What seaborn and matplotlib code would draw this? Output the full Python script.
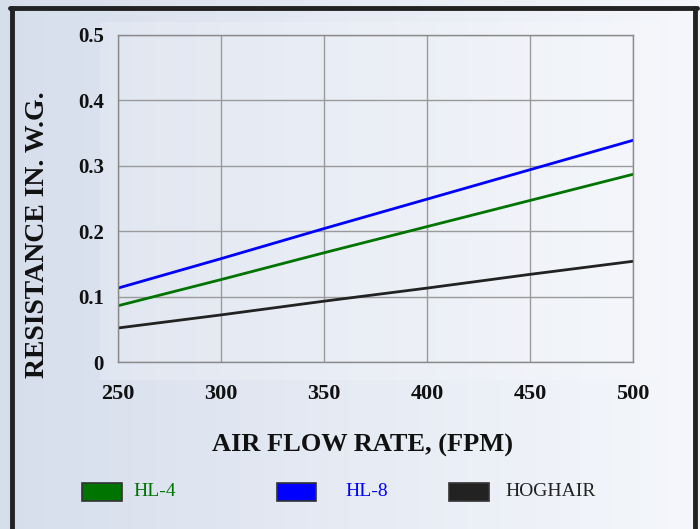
import matplotlib
matplotlib.use("Agg")
import matplotlib.pyplot as plt
from matplotlib.patches import Rectangle
from matplotlib.lines import Line2D
import seaborn as sns
import pandas as pd
import numpy as np

# values
flow_rate = [250, 300, 350, 400, 450, 500]
hl4 = [0.086, 0.126, 0.167, 0.207, 0.247, 0.287]
hl8 = [0.113, 0.158, 0.204, 0.249, 0.294, 0.339]
hoghair = [0.052, 0.072, 0.093, 0.113, 0.134, 0.154]
series_names = ["HL-4", "HL-8", "HOGHAIR"]
series_colors = ["#007400", "#0000ff", "#222222"]
y_ticks = [0, 0.1, 0.2, 0.3, 0.4, 0.5]
y_tick_labels = ["0", "0.1", "0.2", "0.3", "0.4", "0.5"]

df = pd.DataFrame({
    "flow": flow_rate * 3,
    "resistance": hl4 + hl8 + hoghair,
    "series": [s for s in series_names for _ in flow_rate],
})

sns.set_theme(style="white")
plt.rcParams["font.family"] = ["Liberation Serif", "DejaVu Serif"]

fig = plt.figure(figsize=(7, 5.29), dpi=100)

# gradient background
bg = fig.add_axes([0, 0, 1, 1], zorder=-10)
grad = np.linspace(0, 1, 256).reshape(1, -1)
cmap = matplotlib.colors.LinearSegmentedColormap.from_list("bg", ["#d6deec", "#e6ebf4", "#f5f7fb"])
bg.imshow(grad, aspect="auto", cmap=cmap, extent=[0, 1, 0, 1])
bg.add_patch(Rectangle((100 / 700, 1 - 380 / 529), 560 / 700, 358 / 529,
                       facecolor="white", alpha=0.18, edgecolor="none"))
bg.set_xlim(0, 1)
bg.set_ylim(0, 1)
bg.axis("off")

# dark frame
fig.add_artist(Line2D([10 / 700, 697 / 700], [1 - 8 / 529, 1 - 8 / 529], color="#222222", lw=3.5))
fig.add_artist(Line2D([12 / 700, 12 / 700], [0, 1 - 8 / 529], color="#222222", lw=3.5))
fig.add_artist(Line2D([695 / 700, 695 / 700], [0, 1 - 8 / 529], color="#222222", lw=3.5))

ax = fig.add_axes([118 / 700, 167 / 529, 515 / 700, 327 / 529])
ax.patch.set_alpha(0)
sns.lineplot(data=df, x="flow", y="resistance", hue="series", hue_order=series_names,
             palette=series_colors, linewidth=2, legend=False, ax=ax)

ax.set_xlim(250, 500)
ax.set_ylim(0, 0.5)
ax.set_xticks(flow_rate)
ax.set_yticks(y_ticks)
ax.set_yticklabels(y_tick_labels)
ax.grid(True, color="#9a9a9a", lw=1)
for sp in ax.spines.values():
    sp.set_visible(True)
    sp.set_color("#8a8a8a")
    sp.set_linewidth(1)
ax.tick_params(length=0, colors="#111111")
ax.tick_params(axis="x", pad=16, labelsize=16)
ax.tick_params(axis="y", pad=10, labelsize=15)
for lbl in ax.get_xticklabels() + ax.get_yticklabels():
    lbl.set_fontweight("bold")

ax.set_xlabel("")
ax.set_ylabel("")
fig.text(362 / 700, 1 - 445 / 529, "AIR FLOW RATE, (FPM)", fontsize=19,
         fontweight="bold", color="#111111", ha="center", va="center")
fig.text(38 / 700, 1 - 235 / 529, "RESISTANCE IN. W.G.", rotation=90, fontsize=20,
         fontweight="bold", color="#111111", ha="center", va="center")

# legend swatches
legend_boxes = [(82, 122, 133), (277, 316, 345), (449, 489, 505)]
for (x0, x1, tx), name, col in zip(legend_boxes, series_names, series_colors):
    fig.patches.append(Rectangle((x0 / 700, 1 - 501 / 529), (x1 - x0) / 700, 18 / 529,
                                 facecolor=col, edgecolor="#333333", lw=1.2,
                                 transform=fig.transFigure, figure=fig))
    fig.text(tx / 700, 1 - 491 / 529, name, color=col if name != "HOGHAIR" else "#222222",
             fontsize=14, va="center", ha="left")

fig.savefig("out.png", dpi=100)
